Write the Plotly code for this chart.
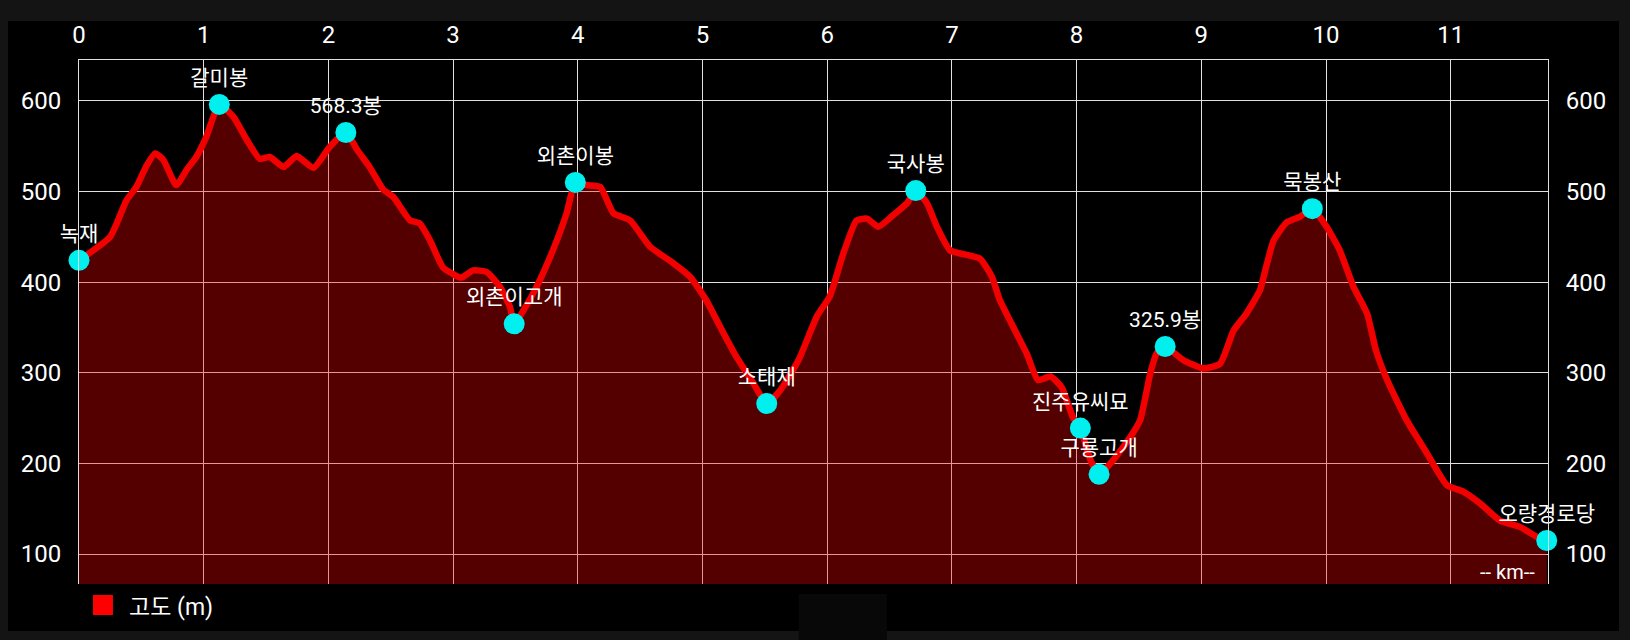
import plotly.graph_objects as go

# Elevation profile (distance in km, elevation in m)
dist_km = [0.00, 0.25, 0.38, 0.46, 0.54, 0.61, 0.676, 0.78, 0.864, 0.94, 1.02, 1.125, 1.24, 1.345,
           1.45, 1.53, 1.64, 1.745, 1.88, 2.01, 2.14, 2.23, 2.33, 2.44, 2.52, 2.655, 2.73, 2.815,
           2.92, 3.04, 3.07, 3.16, 3.27, 3.375, 3.455, 3.49, 3.565, 3.67, 3.80, 3.91, 3.98, 4.07,
           4.18, 4.285, 4.42, 4.58, 4.765, 4.90, 5.03, 5.14, 5.27, 5.41, 5.515, 5.62, 5.77, 5.92,
           6.02, 6.13, 6.235, 6.32, 6.41, 6.53, 6.64, 6.71, 6.80, 6.88, 6.985, 7.12, 7.225, 7.32,
           7.385, 7.49, 7.60, 7.69, 7.79, 7.88, 7.97, 8.03, 8.11, 8.18, 8.295, 8.43, 8.51, 8.59,
           8.64, 8.71, 8.855, 9.016, 9.15, 9.26, 9.36, 9.47, 9.52, 9.58, 9.685, 9.79, 9.89, 10.005,
           10.11, 10.22, 10.33, 10.40, 10.49, 10.645, 10.81, 10.97, 11.10, 11.235, 11.395, 11.555,
           11.69, 11.77]
elev_m = [424, 450, 490, 505, 528, 542, 535, 507, 524, 538, 560, 596, 582, 557,
          536, 538, 527, 539, 526, 549, 565, 546, 527, 502, 494, 468, 465, 446,
          416, 406, 405, 413, 411, 395, 373, 354, 369, 395, 435, 476, 510, 507,
          505, 476, 468, 439, 421, 406, 380, 351, 318, 288, 266, 280, 314, 363,
          384, 432, 468, 470, 461, 474, 487, 501, 487, 461, 435, 430, 426, 406,
          380, 351, 321, 292, 296, 284, 251, 239, 204, 188, 204, 229, 248, 299,
          321, 329, 314, 305, 310, 347, 365, 391, 417, 446, 466, 472, 481, 461,
          435, 395, 365, 325, 292, 248, 211, 176, 169, 156, 137, 130,
          119, 115]

# Waypoints
wp_names = ["녹재", "갈미봉", "568.3봉", "외촌이고개", "외촌이봉", "소태재", "국사봉",
            "진주유씨묘", "구룡고개", "325.9봉", "묵봉산", "오량경로당"]
wp_km = [0.00, 1.125, 2.14, 3.49, 3.98, 5.515, 6.71, 8.03, 8.18, 8.71, 9.89, 11.77]
wp_elev = [424, 596, 565, 354, 510, 266, 501, 239, 188, 329, 481, 115]

x_ticks = list(range(0, 12))
y_ticks = [100, 200, 300, 400, 500, 600]
legend_name = "고도 (m)"
x_unit = "-- km--"

FONT = "Roboto, 'Noto Sans CJK KR', sans-serif"

fig = go.Figure()
fig.add_trace(go.Scatter(
    x=dist_km, y=elev_m, mode="lines", name=legend_name,
    line=dict(color="#f20000", width=6.5, shape="spline", smoothing=0.5),
    fill="tozeroy", fillcolor="rgba(255,0,0,0.33)",
    showlegend=False, hoverinfo="x+y",
))
fig.add_trace(go.Scatter(
    x=wp_km, y=wp_elev, mode="markers+text",
    marker=dict(color="#00f0f0", size=21),
    text=wp_names, textposition="top center",
    textfont=dict(color="white", size=21, family=FONT),
    cliponaxis=False, showlegend=False,
))
# right axis mirror
fig.add_trace(go.Scatter(x=[None], y=[None], yaxis="y2", showlegend=False))

grid = "#e0e0e0"
fig.update_layout(
    width=1630, height=640,
    margin=dict(l=79, r=82, t=60, b=56),
    paper_bgcolor="#141414",
    plot_bgcolor="black",
    showlegend=False,
    font=dict(family=FONT, color="white", size=23),
    xaxis=dict(
        side="top", range=[0, 11.78], tickvals=x_ticks, ticktext=[str(v) for v in x_ticks],
        showgrid=True, gridcolor=grid, gridwidth=1, zeroline=False,
        ticks="outside", ticklen=6, tickcolor="rgba(0,0,0,0)",
        tickfont=dict(size=24, color="white"),
        showline=True, linecolor=grid, linewidth=1, mirror=False,
    ),
    yaxis=dict(
        range=[67, 645], tickvals=y_ticks, showgrid=True, gridcolor=grid, gridwidth=1,
        zeroline=False, ticks="outside", ticklen=12, tickcolor="rgba(0,0,0,0)",
        tickfont=dict(size=24, color="white"),
        showline=True, linecolor=grid, linewidth=1,
    ),
    yaxis2=dict(
        range=[67, 645], tickvals=y_ticks, overlaying="y", side="right", showgrid=False,
        zeroline=False, ticks="outside", ticklen=12, tickcolor="rgba(0,0,0,0)",
        tickfont=dict(size=24, color="white"),
        showline=True, linecolor=grid, linewidth=1,
    ),
    shapes=[
        dict(type="rect", xref="paper", yref="paper", x0=-0.0483, x1=1.0483,
             y0=-0.0897, y1=1.0744, fillcolor="black", line=dict(width=0), layer="below"),
        dict(type="rect", xref="paper", yref="paper", x0=0.490, x1=0.550,
             y0=-0.1069, y1=-0.0191, fillcolor="#080808", line=dict(width=0), layer="below"),
        # legend swatch
        dict(type="rect", xref="paper", yref="paper", x0=0.0095, x1=0.0231,
             y0=-0.0592, y1=-0.021, fillcolor="#ff0000", line=dict(width=0)),
    ],
    annotations=[
        dict(text=x_unit, xref="paper", yref="paper", x=0.9925, y=0.023,
             xanchor="right", yanchor="middle", showarrow=False,
             font=dict(size=20, color="white")),
        dict(text=legend_name, xref="paper", yref="paper", x=0.0327, y=-0.0439,
             xanchor="left", yanchor="middle", showarrow=False,
             font=dict(size=23, color="white")),
    ],
)

fig.write_html("out.html", config={"displayModeBar": False},
               post_script="document.body.style.margin='0';document.body.style.background='#141414';")
